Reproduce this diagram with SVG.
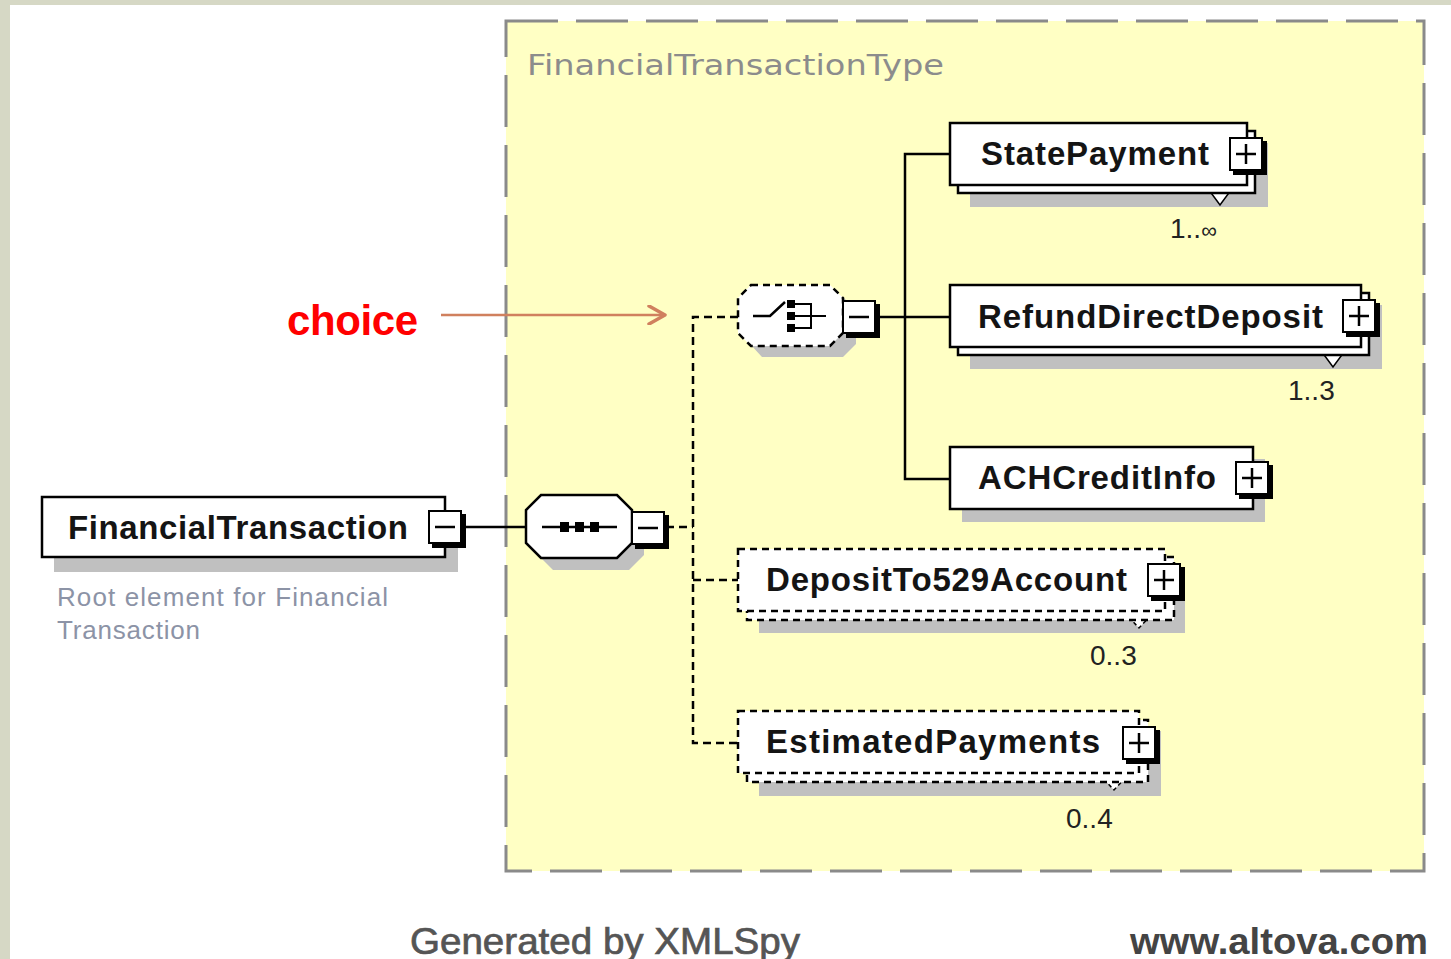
<svg xmlns="http://www.w3.org/2000/svg" width="1451" height="959" viewBox="0 0 1451 959">
  <style>
    .name { font-family: "Liberation Sans", Arial, sans-serif; font-weight: bold; font-size: 33px; fill: #141414; }
    .occ { font-family: "Liberation Sans", Arial, sans-serif; font-size: 28px; fill: #222; }
    .box { fill: #fff; stroke: #000; stroke-width: 2.5; }
    .dbox { fill: #fff; stroke: #000; stroke-width: 2.5; stroke-dasharray: 7 5; }
    .shadow { fill: #c0c0c0; }
    .wire { fill: none; stroke: #000; stroke-width: 2.5; }
    .dwire { fill: none; stroke: #000; stroke-width: 2.5; stroke-dasharray: 8 5; }
    .btn { fill: #fff; stroke: #000; stroke-width: 2; }
    .notch { fill: #fff; stroke: #000; stroke-width: 1.5; }
  </style>
  <defs>
    <!-- expand / collapse buttons: black drop on right and bottom -->
    <g id="minus">
      <rect x="4" y="4" width="34" height="34" fill="#000"/>
      <rect x="1" y="1" width="32" height="32" class="btn"/>
      <line x1="7" y1="17" x2="27" y2="17" stroke="#000" stroke-width="2.5"/>
    </g>
    <g id="plus">
      <rect x="4" y="4" width="34" height="34" fill="#000"/>
      <rect x="1" y="1" width="32" height="32" class="btn"/>
      <line x1="7" y1="17" x2="27" y2="17" stroke="#000" stroke-width="2.5"/>
      <line x1="17" y1="7" x2="17" y2="27" stroke="#000" stroke-width="2.5"/>
    </g>
    <marker id="arrowOpen" viewBox="0 0 20 20" refX="18" refY="10" markerWidth="20" markerHeight="20" markerUnits="userSpaceOnUse" orient="auto">
      <path d="M2,1 L18,10 L2,19" fill="none" stroke="#d0805e" stroke-width="3.5" stroke-linecap="round" stroke-linejoin="round"/>
    </marker>
  </defs>

  <!-- page -->
  <rect x="0" y="0" width="1451" height="959" fill="#fff"/>
  <rect x="0" y="0" width="1451" height="5" fill="#d6d8c5"/>
  <rect x="0" y="0" width="10" height="959" fill="#d6d8c5"/>

  <!-- complex type area -->
  <g id="FinancialTransactionType">
    <rect x="506" y="21" width="918" height="850" fill="#ffffc4" stroke="#8a8a8a" stroke-width="3" stroke-dasharray="52 18"/>
    <text x="527" y="75" font-family="DejaVu Sans, Verdana, sans-serif" font-size="28" fill="#8c8c8c" textLength="417" lengthAdjust="spacingAndGlyphs">FinancialTransactionType</text>
  </g>

  <!-- connectors -->
  <g id="connectors">
    <line x1="462" y1="527" x2="527" y2="527" class="wire"/>
    <line x1="666" y1="527" x2="693" y2="527" class="dwire"/>
    <path d="M738,317 H693 V743 H738" class="dwire"/>
    <line x1="693" y1="580" x2="738" y2="580" class="dwire"/>
    <line x1="877" y1="317" x2="905" y2="317" class="wire"/>
    <path d="M950,154 H905 V479 H950" class="wire"/>
    <line x1="905" y1="317" x2="950" y2="317" class="wire"/>
  </g>

  <!-- root element -->
  <g id="FinancialTransaction">
    <rect x="54" y="510" width="404" height="62" class="shadow"/>
    <rect x="42" y="497" width="403" height="60" class="box"/>
    <text x="68" y="539" class="name" textLength="340" lengthAdjust="spacing">FinancialTransaction</text>
    <use href="#minus" x="428" y="510"/>
    <text font-family="Liberation Sans, Arial, sans-serif" font-size="26" fill="#8c93a6">
      <tspan x="57" y="606" textLength="331" lengthAdjust="spacing">Root element for Financial</tspan>
      <tspan x="57" y="639" textLength="143" lengthAdjust="spacing">Transaction</tspan>
    </text>
  </g>

  <!-- sequence compositor -->
  <g id="sequence">
    <polygon points="553,507 629,507 644,522 644,555 629,570 553,570 538,555 538,522" class="shadow"/>
    <polygon points="541,495 617,495 632,510 632,543 617,558 541,558 526,543 526,510" class="box"/>
    <line x1="542" y1="527" x2="617" y2="527" stroke="#000" stroke-width="2.5"/>
    <rect x="560" y="522" width="9" height="10" fill="#000"/>
    <rect x="575" y="522" width="9" height="10" fill="#000"/>
    <rect x="590" y="522" width="9" height="10" fill="#000"/>
    <use href="#minus" x="631" y="511"/>
  </g>

  <!-- choice compositor -->
  <g id="choice">
    <polygon points="762,297 843,297 856,310 856,344 843,357 762,357 750,344 750,310" class="shadow"/>
    <polygon points="751,285 830,285 843,298 843,333 830,346 751,346 738,333 738,298" class="dbox"/>
    <path d="M753,316 H770 L785,302" fill="none" stroke="#000" stroke-width="2.5"/>
    <rect x="787" y="300" width="8" height="8" fill="#000"/>
    <rect x="787" y="312" width="8" height="8" fill="#000"/>
    <rect x="787" y="324" width="8" height="8" fill="#000"/>
    <path d="M795,304 H811 V328 H795 M795,316 H826" fill="none" stroke="#000" stroke-width="2"/>
    <use href="#minus" x="842" y="300"/>
  </g>

  <!-- child elements -->
  <g id="StatePayment">
    <rect x="970" y="143" width="298" height="64" class="shadow"/>
    <polygon points="1206,186 1220,205 1234,186" class="notch"/>
    <rect x="958" y="131" width="297" height="62" class="box"/>
    <rect x="950" y="123" width="297" height="62" class="box"/>
    <text x="981" y="165" class="name" textLength="228" lengthAdjust="spacing">StatePayment</text>
    <use href="#plus" x="1229" y="137"/>
    <text x="1170" y="238" class="occ">1..<tspan font-size="22">∞</tspan></text>
  </g>

  <g id="RefundDirectDeposit">
    <rect x="970" y="305" width="412" height="64" class="shadow"/>
    <polygon points="1319,348 1333,367 1347,348" class="notch"/>
    <rect x="958" y="293" width="411" height="62" class="box"/>
    <rect x="950" y="285" width="411" height="62" class="box"/>
    <text x="978" y="328" class="name" textLength="345" lengthAdjust="spacing">RefundDirectDeposit</text>
    <use href="#plus" x="1342" y="299"/>
    <text x="1288" y="400" class="occ">1..3</text>
  </g>

  <g id="ACHCreditInfo">
    <rect x="962" y="459" width="303" height="63" class="shadow"/>
    <rect x="950" y="447" width="303" height="62" class="box"/>
    <text x="978" y="489" class="name" textLength="238" lengthAdjust="spacing">ACHCreditInfo</text>
    <use href="#plus" x="1235" y="461"/>
  </g>

  <g id="DepositTo529Account">
    <rect x="759" y="568" width="426" height="65" class="shadow"/>
    <polygon points="1124,612 1139,628 1154,612" class="notch" stroke-dasharray="4 3"/>
    <rect x="747" y="557" width="427" height="63" class="dbox"/>
    <rect x="738" y="549" width="427" height="62" class="dbox"/>
    <text x="766" y="591" class="name" textLength="361" lengthAdjust="spacing">DepositTo529Account</text>
    <use href="#plus" x="1147" y="563"/>
    <text x="1090" y="665" class="occ">0..3</text>
  </g>

  <g id="EstimatedPayments">
    <rect x="759" y="731" width="402" height="65" class="shadow"/>
    <polygon points="1099,774 1114,790 1129,774" class="notch" stroke-dasharray="4 3"/>
    <rect x="747" y="720" width="401" height="62" class="dbox"/>
    <rect x="738" y="711" width="401" height="62" class="dbox"/>
    <text x="766" y="753" class="name" textLength="334" lengthAdjust="spacing">EstimatedPayments</text>
    <use href="#plus" x="1122" y="726"/>
    <text x="1066" y="828" class="occ">0..4</text>
  </g>

  <!-- callout -->
  <g id="choice-label">
    <text x="287" y="335" font-family="Liberation Sans, Arial, sans-serif" font-weight="bold" font-size="42" fill="#ff0000" textLength="131" lengthAdjust="spacing">choice</text>
    <line x1="441" y1="315" x2="665" y2="315" stroke="#d0805e" stroke-width="2.5" marker-end="url(#arrowOpen)"/>
  </g>

  <!-- footer -->
  <text x="410" y="954" font-family="Liberation Sans, Arial, sans-serif" font-size="36" fill="#555" stroke="#555" stroke-width="0.7" textLength="390" lengthAdjust="spacingAndGlyphs">Generated by XMLSpy</text>
  <text x="1130" y="954" font-family="Liberation Sans, Arial, sans-serif" font-weight="bold" font-size="36" fill="#444" textLength="298" lengthAdjust="spacingAndGlyphs">www.altova.com</text>
</svg>
